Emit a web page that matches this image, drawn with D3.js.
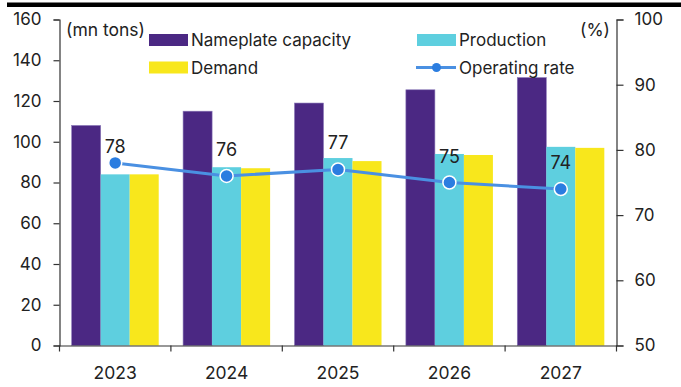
<!DOCTYPE html>
<html>
<head>
<meta charset="utf-8">
<script src="https://cdn.jsdelivr.net/npm/d3@7/dist/d3.min.js"></script>
<style>
  html, body { margin: 0; padding: 0; background: #fff; }
  svg { display: block; font-family: Inter, "Open Sans", sans-serif; }
</style>
</head>
<body>
<svg id="chart" width="681" height="387"></svg>
<script>
// Capacity, output and demand (mn tons) with operating rate (%)
const years = ["2023", "2024", "2025", "2026", "2027"];
const capacity = [108, 115, 119, 125.5, 131.5];
const production = [84, 87.5, 92, 94, 97.5];
const demand = [84, 87, 90.5, 93.5, 97];
const operatingRate = [78, 76, 77, 75, 74];
const leftTicks = [0, 20, 40, 60, 80, 100, 120, 140, 160];
const rightTicks = [50, 60, 70, 80, 90, 100];

const seriesNames = ["Nameplate capacity", "Production", "Demand"];
const seriesValues = [capacity, production, demand];
const colors = { "Nameplate capacity": "#4b2883", "Production": "#5ecfdf", "Demand": "#f8e71c" };
const lineColor = "#4a90e2", dotColor = "#2b7de0", textColor = "#222";
// vertical lift of each rate label above its marker
const labelLift = [10, 20, 20, 20, 20];

const svg = d3.select("#chart");
const plotLeft = 59.5, plotRight = 616.5, plotTop = 19.5, plotBottom = 345.5;

const x = d3.scaleBand().domain(years).range([plotLeft, plotRight]).paddingInner(0).paddingOuter(0);
const xs = d3.scaleBand().domain(seriesNames).range([0, x.bandwidth()]).paddingInner(0).paddingOuter(0.42);
const yL = d3.scaleLinear().domain([0, 160]).range([plotBottom, plotTop]);
const yR = d3.scaleLinear().domain([50, 100]).range([plotBottom, plotTop]);

// top rule
svg.append("rect").attr("x", 7).attr("y", 2.5).attr("width", 674).attr("height", 4.5).attr("fill", "#000");

// bars
const rows = years.map((yr, i) => seriesNames.map((s, k) => ({ yr, s, v: seriesValues[k][i] }))).flat();
svg.append("g").selectAll("rect").data(rows).join("rect")
  .attr("x", d => x(d.yr) + xs(d.s))
  .attr("y", d => yL(d.v))
  .attr("width", xs.bandwidth())
  .attr("height", d => yL(0) - yL(d.v))
  .attr("fill", d => colors[d.s])
  .attr("stroke", d => d.s === "Nameplate capacity" ? "#8a78b8" : "none")
  .attr("stroke-width", 0.6);

// axes
function styleAxis(g) {
  g.selectAll("path.domain").attr("stroke", "#333").attr("stroke-width", 1.2);
  g.selectAll(".tick line").attr("stroke", "#333").attr("stroke-width", 1.2);
  g.selectAll(".tick text").attr("fill", textColor).style("font-size", "17px").style("font-family", "Inter, 'Open Sans', sans-serif");
}
svg.append("g").attr("transform", `translate(${plotLeft},0)`)
  .call(d3.axisLeft(yL).tickValues(leftTicks).tickSizeOuter(0).tickSize(6).tickPadding(12))
  .call(styleAxis);
svg.append("g").attr("transform", `translate(${plotRight},0)`)
  .call(d3.axisRight(yR).tickValues(rightTicks).tickSizeOuter(0).tickSize(7).tickPadding(11))
  .call(styleAxis);
const xAxis = svg.append("g").attr("transform", `translate(0,${plotBottom})`)
  .call(d3.axisBottom(x).tickSize(0).tickPadding(21))
  .call(styleAxis);
xAxis.selectAll(".tick text").style("font-size", "17.5px");
// category boundary ticks
svg.append("g").selectAll("line").data(years.concat(["end"])).join("line")
  .attr("x1", (d, i) => i < years.length ? x(d) : plotRight)
  .attr("x2", (d, i) => i < years.length ? x(d) : plotRight)
  .attr("y1", plotBottom).attr("y2", plotBottom + 6)
  .attr("stroke", "#333").attr("stroke-width", 1.2);

// unit labels
svg.append("text").attr("x", 66).attr("y", 35.5).attr("fill", textColor)
  .style("font-size", "17.5px").text("(mn tons)");
svg.append("text").attr("x", 610).attr("y", 35.5).attr("text-anchor", "end").attr("fill", textColor)
  .style("font-size", "17.5px").text("(%)");

// operating rate line
const cx = (d, i) => x(years[i]) + x.bandwidth() / 2;
svg.append("path").datum(operatingRate)
  .attr("d", d3.line().x(cx).y(d => yR(d)))
  .attr("fill", "none").attr("stroke", lineColor).attr("stroke-width", 3);
svg.append("g").selectAll("circle").data(operatingRate).join("circle")
  .attr("cx", cx).attr("cy", d => yR(d)).attr("r", 6.5)
  .attr("fill", dotColor).attr("stroke", "#fff").attr("stroke-width", 1.5);
svg.append("g").selectAll("text").data(operatingRate).join("text")
  .attr("x", cx).attr("y", (d, i) => yR(d) - labelLift[i])
  .attr("text-anchor", "middle").attr("fill", textColor)
  .style("font-size", "18px").text(d => d);

// legend
const legend = [
  { name: "Nameplate capacity", type: "bar", lx: 149, ly: 40 },
  { name: "Production", type: "bar", lx: 417, ly: 40 },
  { name: "Demand", type: "bar", lx: 149, ly: 67.5 },
  { name: "Operating rate", type: "line", lx: 417, ly: 67.5 }
];
const lg = svg.append("g").selectAll("g").data(legend).join("g")
  .attr("transform", d => `translate(${d.lx},${d.ly})`);
lg.filter(d => d.type === "bar").append("rect")
  .attr("x", 0).attr("y", -6).attr("width", 39).attr("height", 12)
  .attr("fill", d => colors[d.name]);
lg.filter(d => d.type === "line").append("line")
  .attr("x1", -1).attr("x2", 39).attr("y1", 0).attr("y2", 0)
  .attr("stroke", lineColor).attr("stroke-width", 3);
lg.filter(d => d.type === "line").append("circle")
  .attr("cx", 19.5).attr("cy", 0).attr("r", 4.5).attr("fill", dotColor);
lg.append("text").attr("x", 42).attr("y", 6).attr("fill", textColor)
  .style("font-size", "17px").text(d => d.name);
</script>
</body>
</html>
